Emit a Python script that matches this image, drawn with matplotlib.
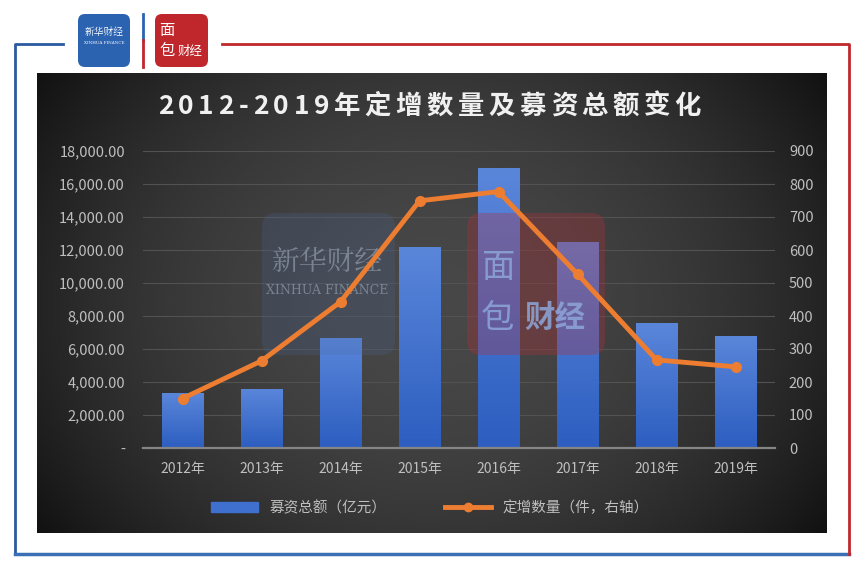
import numpy as np
import matplotlib.pyplot as plt
from matplotlib.patches import FancyBboxPatch, Rectangle
from matplotlib.lines import Line2D
from matplotlib.colors import LinearSegmentedColormap

plt.rcParams['font.family'] = ['Noto Sans CJK SC', 'DejaVu Sans']

# data
years = ['2012年', '2013年', '2014年', '2015年', '2016年', '2017年', '2018年', '2019年']
amount = [3330, 3580, 6690, 12200, 17000, 12470, 7560, 6790]   # 募资总额（亿元）
count = [150, 264, 443, 749, 777, 527, 267, 246]               # 定增数量（件）
left_ticks = np.arange(0, 18001, 2000)
right_ticks = np.arange(0, 901, 100)
title = '2012-2019年定增数量及募资总额变化'
label_amount = '募资总额（亿元）'
label_count = '定增数量（件，右轴）'

W, H = 864, 570
fig = plt.figure(figsize=(W / 100, H / 100), dpi=100)

# background layer in pixel coordinates
bg = fig.add_axes([0, 0, 1, 1])
bg.axis('off')

# dark panel with soft vignette
gx, gy = np.meshgrid(np.linspace(-1, 1, 400), np.linspace(-1, 1, 240))
shade = 0.28 - 0.14 * gx ** 2 - 0.07 * gy ** 2
bg.imshow(shade, cmap='gray', vmin=0, vmax=1, extent=(37, 827, 533, 73),
          aspect='auto', interpolation='bicubic')

# frame lines
bg.plot([63, 15, 15], [44, 44, 554], color='#2c5aa0', lw=2)
bg.plot([15, 849], [554, 554], color='#3a6fb5', lw=2.5)
bg.plot([222, 849, 849], [44, 44, 554], color='#c0282d', lw=2)

# top logos
bg.add_patch(FancyBboxPatch((78, 14), 52, 53, boxstyle='round,pad=0,rounding_size=7',
                            fc='#2b63b1', ec='none'))
bg.text(104, 32, '新华财经', fontsize=7, color='white', ha='center', va='center',
        family=['Noto Serif CJK SC', 'Noto Sans CJK SC'])
bg.text(104, 43, 'XINHUA FINANCE', fontsize=3, color='white', ha='center', va='center',
        family='DejaVu Serif')
bg.plot([143, 143], [14, 40], color='#2b63b1', lw=2)
bg.plot([143, 143], [40, 67], color='#c0272d', lw=2)
bg.add_patch(FancyBboxPatch((155, 14), 53, 53, boxstyle='round,pad=0,rounding_size=7',
                            fc='#c0272d', ec='none'))
bg.text(167, 31, '面', fontsize=11, color='white', ha='center', va='center')
bg.text(167, 51, '包', fontsize=11, color='white', ha='center', va='center')
bg.text(190, 51, '财经', fontsize=9, color='white', ha='center', va='center')

bg.set_xlim(0, W)
bg.set_ylim(H, 0)

# main chart
ax = fig.add_axes([143 / W, 1 - 448 / H, (775 - 143) / W, (448 - 151) / H])
ax.patch.set_alpha(0)
x = np.arange(len(years))
bars = ax.bar(x, amount, width=0.52, color='#3f6fcf', zorder=2)

bar_cmap = LinearSegmentedColormap.from_list('bar', ['#2d5ec0', '#5a86da'])
grad = np.linspace(0, 1, 100).reshape(-1, 1)
for b in bars:
    im = ax.imshow(grad, cmap=bar_cmap, origin='lower', aspect='auto', zorder=2.1,
                   extent=(b.get_x(), b.get_x() + b.get_width(), 0, b.get_height()))
    im.set_clip_path(b)

ax.set_xlim(-0.5, len(years) - 0.5)
ax.set_ylim(0, 18000)
ax.set_yticks(left_ticks)
ax.set_yticklabels(['-' if v == 0 else f'{v:,.2f}' for v in left_ticks])
ax.set_xticks(x)
ax.set_xticklabels(years)
ax.tick_params(axis='y', length=0, pad=13, colors='#bfbfbf', labelsize=10.5)
ax.tick_params(axis='x', length=0, pad=10, colors='#bfbfbf', labelsize=10)
ax.grid(axis='y', color='#525252', lw=0.8, zorder=0)
ax.set_axisbelow(True)
for s in ['top', 'left', 'right']:
    ax.spines[s].set_visible(False)
ax.spines['bottom'].set_color('#858585')
ax.spines['bottom'].set_linewidth(1.6)

# watermarks over the bars
t = bg.transData
ax.add_patch(FancyBboxPatch((262, 213), 133, 142, boxstyle='round,pad=0,rounding_size=14',
                            fc='#4a6a9e', ec='none', alpha=0.22, transform=t,
                            zorder=4, clip_on=False))
ax.text(327, 262, '新华财经', fontsize=20, color='#8c96a6', alpha=0.75, ha='center',
        va='center', transform=t, zorder=4.1, family=['Noto Serif CJK SC', 'Noto Sans CJK SC'])
ax.text(327, 290, 'XINHUA FINANCE', fontsize=9, color='#8c96a6', alpha=0.75, ha='center',
        va='center', transform=t, zorder=4.1, family='DejaVu Serif')
ax.add_patch(FancyBboxPatch((467, 213), 138, 142, boxstyle='round,pad=0,rounding_size=14',
                            fc='#b03038', ec='none', alpha=0.32, transform=t,
                            zorder=4, clip_on=False))
ax.text(498, 268, '面', fontsize=24, color='#8ea6da', alpha=0.85, ha='center',
        va='center', transform=t, zorder=4.1)
ax.text(498, 318, '包', fontsize=24, color='#8ea6da', alpha=0.85, ha='center',
        va='center', transform=t, zorder=4.1)
ax.text(555, 318, '财经', fontsize=22, color='#8ea6da', alpha=0.85, ha='center',
        va='center', transform=t, zorder=4.1, fontweight='bold')

ax2 = ax.twinx()
ax2.plot(x, count, color='#ed7d31', lw=3.5, marker='o', ms=7, zorder=3)
ax2.set_ylim(0, 900)
ax2.set_yticks(right_ticks)
ax2.tick_params(axis='y', length=0, pad=10, colors='#bfbfbf', labelsize=10.5)
for s in ax2.spines.values():
    s.set_visible(False)

# legend
handles = [Rectangle((0, 0), 1, 1, color='#3f6fcf'),
           Line2D([], [], color='#ed7d31', lw=3.5, marker='o', ms=6)]
fig.legend(handles, [label_amount, label_count], loc='center',
           bbox_to_anchor=(430 / W, 1 - 508 / H), ncol=2, frameon=False,
           fontsize=10.5, labelcolor='#bfbfbf', handlelength=3.2,
           columnspacing=4, handletextpad=0.8)

# title with spaced letters
renderer = fig.canvas.get_renderer()
chars = [bg.text(0, 106, ch, fontsize=19, fontweight='bold', color='#f0f0f0',
                 ha='left', va='center') for ch in title]
widths = [c.get_window_extent(renderer).width for c in chars]
gap = (701 - 158 - sum(widths)) / (len(chars) - 1)
pos = 158
for c, w in zip(chars, widths):
    c.set_x(pos)
    pos += w + gap

fig.savefig('out.png', dpi=100, facecolor='white')
